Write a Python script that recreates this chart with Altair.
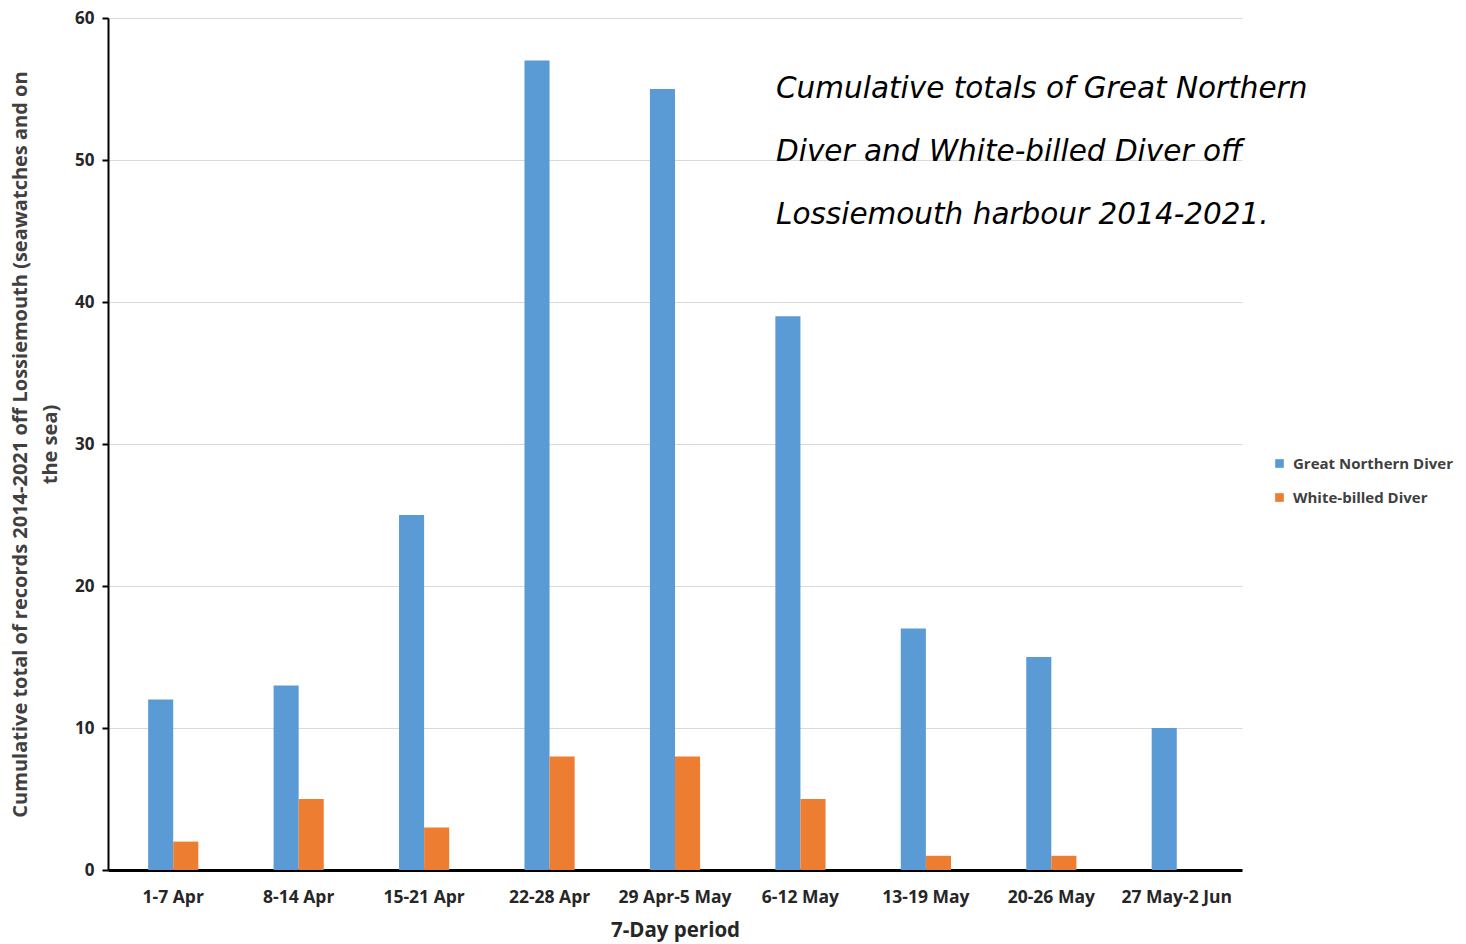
import altair as alt
import pandas as pd

periods = ["1-7 Apr", "8-14 Apr", "15-21 Apr", "22-28 Apr", "29 Apr-5 May",
           "6-12 May", "13-19 May", "20-26 May", "27 May-2 Jun"]
great_northern = [12, 13, 25, 57, 55, 39, 17, 15, 10]
white_billed = [2, 5, 3, 8, 8, 5, 1, 1, 0]
series_names = ["Great Northern Diver", "White-billed Diver"]
series_colors = ["#5B9BD5", "#ED7D31"]

rows = []
for p, g, w in zip(periods, great_northern, white_billed):
    rows.append({"period": p, "series": series_names[0], "value": g})
    rows.append({"period": p, "series": series_names[1], "value": w})
df = pd.DataFrame(rows)

FONT = "Open Sans"

bars = alt.Chart(df).mark_bar().encode(
    x=alt.X("period:N", sort=periods,
            scale=alt.Scale(paddingInner=0.6, paddingOuter=0.32),
            axis=alt.Axis(title="7-Day period", labelAngle=0, labelFont=FONT,
                          labelFontSize=17.5, labelFontWeight="bold", labelColor="#262626",
                          labelPadding=18, ticks=False, domainColor="#000000",
                          domainWidth=3, titleFont=FONT, titleFontSize=20.5,
                          titleFontWeight="bold", titleColor="#262626", titlePadding=15)),
    xOffset=alt.XOffset("series:N", sort=series_names),
    y=alt.Y("value:Q", scale=alt.Scale(domain=[0, 60]),
            axis=alt.Axis(values=[0, 10, 20, 30, 40, 50, 60], format="d",
                          title=["Cumulative total of records 2014-2021 off Lossiemouth (seawatches and on",
                                 "the sea)"],
                          labelFont=FONT, labelFontSize=17, labelFontWeight="bold",
                          labelColor="#262626", labelPadding=8,
                          tickColor="#000000", tickSize=6, tickWidth=2,
                          domainColor="#000000", domainWidth=2,
                          gridColor="#d9d9d9", gridWidth=1,
                          titleFont=FONT, titleFontSize=20, titleFontWeight="bold",
                          titleColor="#404040", titlePadding=14, titleLineHeight=30)),
    color=alt.Color("series:N", sort=series_names,
                    scale=alt.Scale(domain=series_names, range=series_colors),
                    legend=alt.Legend(title=None, orient="none", legendX=1164, legendY=438,
                                      symbolType="square", symbolSize=75,
                                      symbolStrokeWidth=0,
                                      labelFont=FONT, labelFontSize=15, labelFontWeight="bold",
                                      labelColor="#404040", rowPadding=18, labelOffset=6)),
)

note = alt.Chart(pd.DataFrame({"t": ["x"]})).mark_text(
    text=["Cumulative totals of Great Northern",
          "Diver and White-billed Diver off",
          "Lossiemouth harbour 2014-2021."],
    font="DejaVu Sans", fontSize=29.5, fontStyle="italic", align="left",
    baseline="alphabetic", lineHeight=63, color="#000000"
).encode(x=alt.value(668), y=alt.value(80))

chart = alt.layer(bars, note).properties(
    width=1134, height=852,
    autosize=alt.AutoSizeParams(type="none"),
    padding={"left": 108, "top": 18, "right": 224, "bottom": 74},
    background="#ffffff",
).configure_view(stroke=None)

chart.save("out.html", embed_options={"renderer": "svg", "actions": False})
